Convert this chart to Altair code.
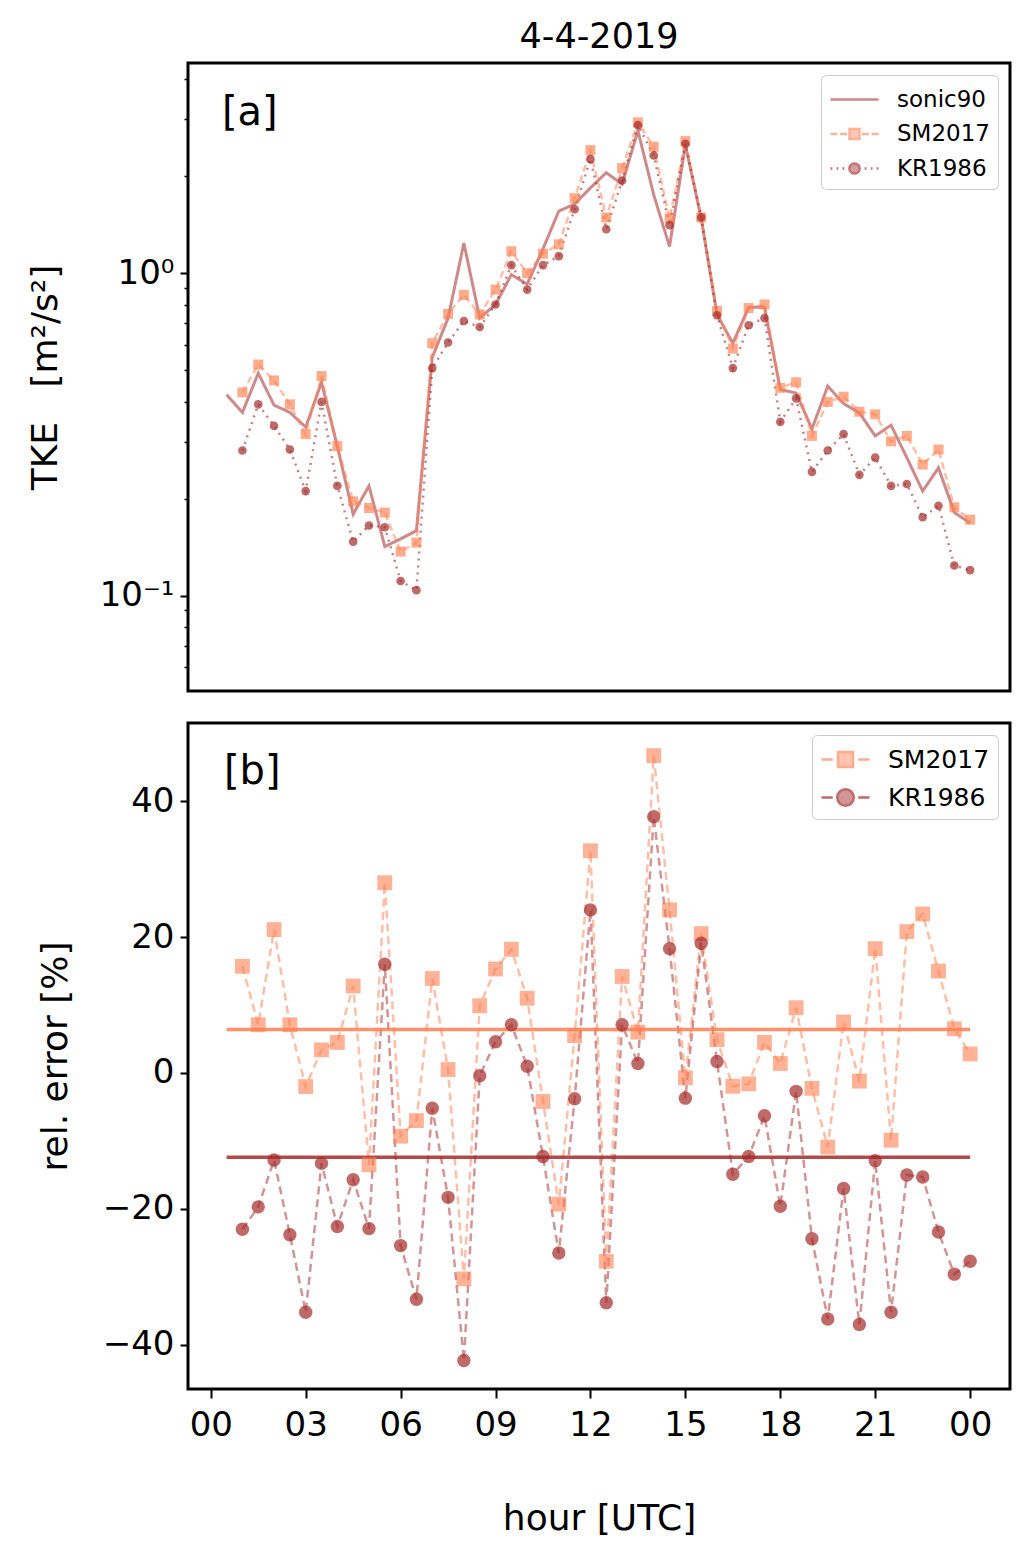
import altair as alt
import pandas as pd

# ---------------- data ----------------
hours_sonic = [0.5, 1.0, 1.5, 2.0, 2.5, 3.0, 3.5, 4.0, 4.5, 5.0, 5.5, 6.0,
               6.5, 7.0, 7.5, 8.0, 8.5, 9.0, 9.5, 10.0, 10.5, 11.0, 11.5, 12.0,
               12.5, 13.0, 13.5, 14.0, 14.5, 15.0, 15.5, 16.0, 16.5, 17.0, 17.5, 18.0,
               18.5, 19.0, 19.5, 20.0, 20.5, 21.0, 21.5, 22.0, 22.5, 23.0, 23.5, 24.0]
hours_model = hours_sonic[1:]

tke_sonic90 = [0.42, 0.37, 0.49, 0.39, 0.37, 0.333, 0.459, 0.29, 0.179, 0.219, 0.142, 0.150,
               0.159, 0.548, 0.726, 1.24, 0.726, 0.80, 0.99, 0.925, 1.19, 1.56, 1.64, 1.84,
               2.05, 1.89, 2.77, 1.75, 1.21, 2.50, 1.48, 0.745, 0.607, 0.784, 0.784, 0.436,
               0.425, 0.329, 0.447, 0.394, 0.369, 0.313, 0.338, 0.268, 0.211, 0.249, 0.181, 0.168]
tke_sm2017 = [0.427, 0.521, 0.465, 0.392, 0.317, 0.48, 0.291, 0.196, 0.187, 0.181, 0.137, 0.146,
              0.607, 0.748, 0.857, 0.745, 0.89, 1.17, 1.0, 1.15, 1.23, 1.71, 2.41, 1.49,
              2.12, 2.94, 2.47, 1.48, 2.57, 1.49, 0.764, 0.584, 0.78, 0.80, 0.441, 0.459,
              0.313, 0.399, 0.414, 0.372, 0.365, 0.301, 0.313, 0.255, 0.284, 0.188, 0.172]
tke_kr1986 = [0.282, 0.392, 0.336, 0.284, 0.211, 0.399, 0.219, 0.147, 0.165, 0.163, 0.111, 0.104,
              0.508, 0.61, 0.711, 0.681, 0.80, 1.06, 0.89, 1.06, 1.13, 1.58, 2.26, 1.37,
              1.94, 2.88, 2.32, 1.41, 2.52, 1.49, 0.741, 0.508, 0.69, 0.726, 0.346, 0.409,
              0.242, 0.282, 0.317, 0.237, 0.268, 0.219, 0.222, 0.175, 0.190, 0.124, 0.120]

err_sm2017 = [15.7, 7.1, 21.1, 7.1, -2.0, 3.4, 4.5, 12.8, -13.5, 28.0, -9.3, -7.0,
              13.9, 0.5, -30.3, 9.9, 15.3, 18.2, 11.0, -4.2, -19.3, 5.5, 32.7, -27.7,
              14.2, 6.0, 46.7, 24.0, -0.7, 20.5, 4.9, -1.95, -1.6, 4.5, 1.4, 9.6,
              -2.25, -10.9, 7.5, -1.2, 18.3, -9.9, 20.8, 23.4, 15.0, 6.5, 2.8]
err_kr1986 = [-23.0, -19.7, -12.8, -23.8, -35.2, -13.3, -22.6, -15.7, -22.9, 16.0, -25.4, -33.3,
              -5.2, -18.3, -42.3, -0.4, 4.6, 7.1, 1.0, -12.3, -26.5, -3.8, 24.0, -33.8,
              7.1, 1.4, 37.7, 18.3, -3.7, 19.1, 1.7, -14.9, -12.3, -6.3, -19.6, -2.7,
              -24.4, -36.2, -17.0, -37.0, -12.9, -35.2, -15.0, -15.3, -23.4, -29.6, -27.7]

mean_series = ["SM2017 mean", "KR1986 mean"]
mean_err = [6.4, -12.4]
mean_start = [0.5, 0.5]
mean_end = [24.0, 24.0]

hour_ticks = [0, 3, 6, 9, 12, 15, 18, 21, 24]
tke_major_ticks = [0.1, 1.0]
tke_minor_ticks = [0.06, 0.07, 0.08, 0.09, 0.2, 0.3, 0.4, 0.5, 0.6, 0.7, 0.8, 0.9, 2.0, 3.0, 4.0]
err_ticks = [-40, -20, 0, 20, 40]

legend_top_names = ["sonic90", "SM2017", "KR1986"]
legend_bot_names = ["SM2017", "KR1986"]

# ---------------- style ----------------
FONT = "DejaVu Sans"
CORAL = "#ff7f50"
BROWN = "#a52a2a"
W = 822
H_TOP = 628
H_BOT = 666
XDOM = [-0.72, 25.26]

df_sonic = pd.DataFrame({"hour": hours_sonic, "tke": tke_sonic90})
df_top = pd.DataFrame({"hour": hours_model, "sm": tke_sm2017, "kr": tke_kr1986})
df_bot = pd.DataFrame({"hour": hours_model, "sm": err_sm2017, "kr": err_kr1986})
df_mean = pd.DataFrame({"stat": mean_series, "value": mean_err,
                        "x0": mean_start, "x1": mean_end})
df_leg_top = pd.DataFrame({"series": legend_top_names})
df_leg_bot = pd.DataFrame({"model": legend_bot_names})
df_lab_a = pd.DataFrame({"t": ["[a]"]})
df_lab_b = pd.DataFrame({"t": ["[b]"]})

xscale = alt.Scale(domain=XDOM, nice=False, zero=False)
yscale_top = alt.Scale(type="log", domain=[0.0506, 4.49], nice=False)
yscale_bot = alt.Scale(domain=[-46.5, 51.5], nice=False, zero=False)

X_top = alt.X("hour:Q", scale=xscale, axis=None)

major_axis = alt.Axis(orient="left", values=tke_major_ticks,
                      labelExpr="datum.value == 1 ? '10⁰' : (datum.value == 0.1 ? '10⁻¹' : '')",
                      tickSize=8, tickWidth=2, labelPadding=6, labelFontSize=34,
                      title="TKE\u00a0\u00a0\u00a0[m²/s²]", titleX=-143, titleBaseline="middle",
                      titleFontSize=36, grid=False, domain=False)
minor_axis = alt.Axis(orient="left", values=tke_minor_ticks, labels=False,
                      tickSize=4, tickWidth=1.5, title=None, grid=False, domain=False)


def ytop(field, axis=None):
    return alt.Y(f"{field}:Q", scale=yscale_top, axis=axis)


# legend symbols (custom SVG paths: line + marker)
p_sonic = "M-1.6,0H1.6"
p_sm_top = ("M-1.6,0H-1.15M-0.95,0H-0.5M0.5,0H0.95M1.15,0H1.6"
            "M-0.33,-0.33H0.33V0.33H-0.33Z")
p_kr_top = ("M-1.6,0H-1.48M-1.2,0H-1.08M-0.8,0H-0.68M0.68,0H0.8M1.08,0H1.2M1.48,0H1.6"
            "M-0.34,0A0.34,0.34,0,1,0,0.34,0A0.34,0.34,0,1,0,-0.34,0Z")
p_sm_bot = ("M-1.6,0H-0.85M0.85,0H1.6"
            "M-0.5,-0.5H0.5V0.5H-0.5Z")
p_kr_bot = ("M-1.6,0H-0.85M0.85,0H1.6"
            "M-0.55,0A0.55,0.55,0,1,0,0.55,0A0.55,0.55,0,1,0,-0.55,0Z")


def legend_layer(df, field, names, paths, colors, opac, fontsize, rowpad, pad):
    leg = alt.Legend(title=None, orient="top-right", offset=12, padding=pad,
                     labelFontSize=fontsize, labelFont=FONT, labelColor="black",
                     symbolSize=900, symbolStrokeWidth=2.5, symbolOffset=9,
                     labelOffset=26, rowPadding=rowpad, strokeColor="#cccccc",
                     fillColor="white", cornerRadius=5, labelLimit=400)
    return alt.Chart(df).transform_filter("false").mark_point(
        filled=True, strokeWidth=2.5, size=900
    ).encode(
        shape=alt.Shape(f"{field}:N", scale=alt.Scale(domain=names, range=paths), legend=leg),
        fill=alt.Fill(f"{field}:N", scale=alt.Scale(domain=names, range=colors), legend=leg),
        stroke=alt.Stroke(f"{field}:N", scale=alt.Scale(domain=names, range=colors), legend=leg),
        opacity=alt.Opacity(f"{field}:N", scale=alt.Scale(domain=names, range=opac), legend=leg),
    )


# ---------------- top panel ----------------
sonic_line = alt.Chart(df_sonic).mark_line(color=BROWN, opacity=0.55, strokeWidth=3).encode(
    x=X_top, y=ytop("tke", major_axis))
sm_line = alt.Chart(df_top).mark_line(color=CORAL, opacity=0.5, strokeWidth=2.5,
                                      strokeDash=[7, 4]).encode(x=X_top, y=ytop("sm", minor_axis))
sm_pts = alt.Chart(df_top).mark_point(shape="square", filled=True, size=100, color=CORAL,
                                      opacity=0.65).encode(x=X_top, y=ytop("sm"))
kr_line = alt.Chart(df_top).mark_line(color=BROWN, opacity=0.6, strokeWidth=2.5,
                                      strokeDash=[2, 5]).encode(x=X_top, y=ytop("kr"))
kr_pts = alt.Chart(df_top).mark_point(shape="circle", filled=True, size=75, color=BROWN,
                                      opacity=0.7).encode(x=X_top, y=ytop("kr"))
lab_a = alt.Chart(df_lab_a).mark_text(font=FONT, fontSize=40, align="left",
                                      baseline="middle", color="black").encode(
    x=alt.value(34), y=alt.value(50), text="t:N")
leg_top = legend_layer(df_leg_top, "series", legend_top_names, [p_sonic, p_sm_top, p_kr_top],
                       [BROWN, CORAL, BROWN], [0.55, 0.65, 0.7], 23, 5.5, 8)

top = alt.layer(sonic_line, sm_line, kr_line, sm_pts, kr_pts, lab_a, leg_top).resolve_axis(
    y="independent"
).properties(
    width=W, height=H_TOP,
    title=alt.TitleParams("4-4-2019", fontSize=35, font=FONT, fontWeight="normal",
                          anchor="middle", offset=8, color="black"),
)

# ---------------- bottom panel ----------------
x_axis_bot = alt.Axis(values=hour_ticks,
                      labelExpr="(datum.value % 24 < 10 ? '0' : '') + (datum.value % 24)",
                      tickSize=9, tickWidth=2, labelPadding=10, labelFontSize=34,
                      title="hour [UTC]", titleFontSize=36, titlePadding=59,
                      grid=False, domain=False)
y_axis_bot = alt.Axis(values=err_ticks, tickSize=8, tickWidth=2, labelPadding=6,
                      labelFontSize=34, title="rel. error [%]", titleX=-133,
                      titleBaseline="middle", titleFontSize=36, grid=False, domain=False)

X_bot = alt.X("hour:Q", scale=xscale, axis=x_axis_bot)


def ybot(field):
    return alt.Y(f"{field}:Q", scale=yscale_bot, axis=y_axis_bot)


sm_line_b = alt.Chart(df_bot).mark_line(color=CORAL, opacity=0.5, strokeWidth=2.5,
                                        strokeDash=[8, 5]).encode(x=X_bot, y=ybot("sm"))
kr_line_b = alt.Chart(df_bot).mark_line(color=BROWN, opacity=0.5, strokeWidth=2.5,
                                        strokeDash=[8, 5]).encode(x=X_bot, y=ybot("kr"))
sm_pts_b = alt.Chart(df_bot).mark_point(shape="square", filled=True, size=220, color=CORAL,
                                        opacity=0.6).encode(x=X_bot, y=ybot("sm"))
kr_pts_b = alt.Chart(df_bot).mark_point(shape="circle", filled=True, size=180, color=BROWN,
                                        opacity=0.7).encode(x=X_bot, y=ybot("kr"))
mean_rules = alt.Chart(df_mean).mark_rule(strokeWidth=3.5, opacity=0.85).encode(
    x=alt.X("x0:Q", scale=xscale, axis=x_axis_bot),
    x2="x1:Q",
    y=alt.Y("value:Q", scale=yscale_bot, axis=y_axis_bot),
    color=alt.Color("stat:N", scale=alt.Scale(domain=mean_series, range=[CORAL, BROWN]),
                    legend=None),
)
lab_b = alt.Chart(df_lab_b).mark_text(font=FONT, fontSize=40, align="left",
                                      baseline="middle", color="black").encode(
    x=alt.value(36), y=alt.value(49), text="t:N")
leg_bot = legend_layer(df_leg_bot, "model", legend_bot_names, [p_sm_bot, p_kr_bot],
                       [CORAL, BROWN], [0.65, 0.7], 25, 8, 8)

bottom = alt.layer(sm_line_b, kr_line_b, mean_rules, sm_pts_b, kr_pts_b, lab_b, leg_bot).properties(
    width=W, height=H_BOT)

chart = alt.vconcat(top, bottom, spacing=28).resolve_scale(
    x="independent", y="independent", color="independent", shape="independent",
    fill="independent", stroke="independent", opacity="independent"
).resolve_legend(
    shape="independent", fill="independent", stroke="independent", opacity="independent"
).properties(
    padding={"left": 17, "top": 10, "right": 10, "bottom": 10}
).configure_view(
    stroke="black", strokeWidth=3
).configure_axis(
    labelFont=FONT, titleFont=FONT, labelColor="black", titleColor="black",
    tickColor="black", titleFontWeight="normal"
).configure_title(font=FONT)

chart.save("out.html", embed_options={"renderer": "svg", "actions": False})
